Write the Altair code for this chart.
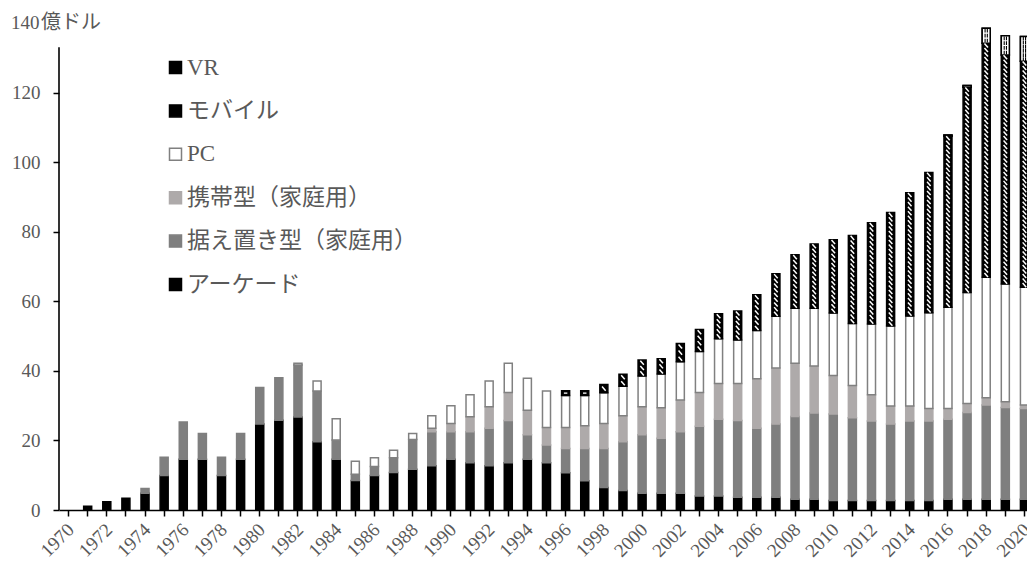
import altair as alt
import pandas as pd

# Game market revenue by platform (unit: 100 million USD), 1970-2020
years = list(range(1970, 2021))

arcade = [0.0, 1.1, 2.4, 3.4, 4.8, 9.9, 14.6, 14.6, 9.9, 14.6,
          24.7, 25.8, 26.7, 19.6, 14.6, 8.5, 9.9, 10.8, 11.7, 12.7,
          14.6, 13.6, 12.7, 13.6, 14.6, 13.6, 10.7, 8.4, 6.5, 5.6,
          4.8, 4.8, 4.8, 4.0, 4.0, 3.7, 3.7, 3.7, 3.1, 3.1,
          2.7, 2.7, 2.7, 2.7, 2.7, 2.7, 3.1, 3.1, 3.1, 3.1, 3.1]
console = [0.0, 0.0, 0.0, 0.0, 1.4, 5.3, 10.7, 7.4, 5.3, 7.4,
           10.5, 12.2, 15.0, 14.6, 5.5, 1.8, 2.6, 4.2, 8.6, 9.8,
           7.9, 8.9, 10.8, 12.1, 7.0, 5.1, 7.0, 9.3, 11.2, 14.0,
           16.8, 15.8, 17.7, 20.1, 22.1, 22.0, 19.8, 21.0, 23.8, 24.8,
           24.9, 23.8, 22.9, 22.0, 22.9, 22.9, 23.0, 24.9, 27.1, 26.4, 26.1]
handheld = [0.0, 0.0, 0.0, 0.0, 0.0, 0.0, 0.0, 0.0, 0.0, 0.0,
            0.0, 0.0, 0.0, 0.0, 0.0, 0.0, 0.0, 0.0, 0.0, 1.0,
            2.4, 4.3, 6.2, 8.1, 7.1, 5.0, 6.0, 6.5, 7.2, 7.5,
            8.1, 8.8, 9.1, 9.7, 10.3, 10.7, 14.2, 16.1, 15.3, 13.5,
            11.1, 9.3, 7.5, 5.2, 4.3, 3.6, 3.1, 2.6, 2.1, 1.6, 1.0]
pc = [0.0, 0.0, 0.0, 0.0, 0.0, 0.0, 0.0, 0.0, 0.0, 0.0,
      0.0, 0.0, 0.5, 2.9, 6.1, 3.7, 2.5, 2.2, 1.7, 3.6,
      5.1, 6.3, 7.4, 8.4, 9.2, 10.5, 9.2, 8.7, 8.8, 8.5,
      8.8, 9.7, 11.0, 11.8, 12.8, 12.5, 13.9, 14.9, 15.8, 16.6,
      17.9, 17.8, 20.4, 23.0, 25.9, 27.5, 29.1, 31.9, 34.6, 33.9, 33.8]
mobile = [0.0, 0.0, 0.0, 0.0, 0.0, 0.0, 0.0, 0.0, 0.0, 0.0,
          0.0, 0.0, 0.0, 0.0, 0.0, 0.0, 0.0, 0.0, 0.0, 0.0,
          0.0, 0.0, 0.0, 0.0, 0.0, 0.0, 1.4, 1.4, 2.4, 3.4,
          4.6, 4.4, 5.3, 6.3, 7.2, 8.3, 10.3, 12.2, 15.4, 18.5,
          21.1, 25.3, 29.1, 32.6, 35.4, 40.3, 49.2, 59.0, 67.3, 65.8, 65.0]
vr = [0.0, 0.0, 0.0, 0.0, 0.0, 0.0, 0.0, 0.0, 0.0, 0.0,
      0.0, 0.0, 0.0, 0.0, 0.0, 0.0, 0.0, 0.0, 0.0, 0.0,
      0.0, 0.0, 0.0, 0.0, 0.0, 0.0, 0.0, 0.0, 0.0, 0.0,
      0.0, 0.0, 0.0, 0.0, 0.0, 0.0, 0.0, 0.0, 0.0, 0.0,
      0.0, 0.0, 0.0, 0.0, 0.0, 0.0, 0.3, 0.5, 4.3, 5.5, 7.1]

# legend order (top to bottom) = reverse of stacking order
categories = ["VR", "モバイル", "PC", "携帯型（家庭用）", "据え置き型（家庭用）", "アーケード"]
fill_colors = ["#000000", "#000000", "#ffffff", "#aeaaaa", "#7f7f7f", "#000000"]
stroke_colors = ["#000000", "#000000", "#808080", "#aeaaaa", "#7f7f7f", "#000000"]

series = {
    "アーケード": arcade,
    "据え置き型（家庭用）": console,
    "携帯型（家庭用）": handheld,
    "PC": pc,
    "モバイル": mobile,
    "VR": vr,
}
stack_order = ["アーケード", "据え置き型（家庭用）", "携帯型（家庭用）", "PC", "モバイル", "VR"]

PLOT_W = 975
PLOT_H = 487
Y_MAX = 140
px_per_unit = PLOT_H / Y_MAX

# stacked segments computed bottom-up
rows = []
for i, yr in enumerate(years):
    base = 0.0
    for cat in stack_order:
        v = series[cat][i]
        if v > 0:
            rows.append({"year": yr, "cat": cat, "y0": base, "y1": base + v})
        base += v
seg = pd.DataFrame(rows)

# hatch glyphs for the mobile segments, and dots for the VR segments
hatch, hatch_small, dots = [], [], []
for r in rows:
    h_px = (r["y1"] - r["y0"]) * px_per_unit
    if r["cat"] == "モバイル":
        if h_px < 7:
            hatch_small.append({"year": r["year"], "yv": (r["y0"] + r["y1"]) / 2})
        else:
            n = max(1, int((h_px - 2) // 4.4))
            step = (r["y1"] - r["y0"]) / n
            for k in range(n):
                hatch.append({"year": r["year"], "yv": r["y0"] + (k + 0.5) * step})
    elif r["cat"] == "VR" and h_px >= 4:
        n = max(1, int((h_px - 2) // 3.5))
        step = (r["y1"] - r["y0"]) / n
        for k in range(n):
            dots.append({"year": r["year"], "yv": r["y0"] + (k + 0.5) * step})

FONT = "Liberation Serif, Noto Sans CJK JP"
GRAY_TEXT = "#595959"

x_scale = alt.Scale(domain=years, paddingInner=0.58, paddingOuter=0.29, range=[0, PLOT_W])
x_enc = alt.X(
    "year:O",
    scale=x_scale,
    axis=alt.Axis(
        title=None,
        labelAngle=-45,
        labelExpr="toNumber(datum.value) % 2 == 0 ? datum.label : ''",
        labelOverlap=False,
        labelBound=False,
        labelFlush=False,
        labelFont=FONT,
        labelFontSize=19,
        labelColor=GRAY_TEXT,
        labelPadding=4,
        labelOffset=-4,
        domainColor="#000000",
        domainWidth=1.6,
        tickColor="#000000",
        tickWidth=1.5,
        tickSize=6,
        grid=False,
    ),
)
y_scale = alt.Scale(domain=[0, Y_MAX], nice=False)

bars = alt.Chart(seg).mark_bar(strokeWidth=1.5).encode(
    x=x_enc,
    y=alt.Y(
        "y0:Q",
        scale=y_scale,
        axis=alt.Axis(
            title=None,
            values=[0, 20, 40, 60, 80, 100, 120],
            domain=False,
            tickColor="#000000",
            tickWidth=1.5,
            tickSize=6,
            labelPadding=13,
            labelFont=FONT,
            labelFontSize=19,
            labelColor=GRAY_TEXT,
            grid=False,
        ),
    ),
    y2="y1:Q",
    fill=alt.Fill(
        "cat:N",
        scale=alt.Scale(domain=categories, range=fill_colors),
        legend=alt.Legend(
            orient="none",
            legendX=105,
            legendY=33,
            title=None,
            symbolType="square",
            symbolSize=144,
            symbolStrokeWidth=1.5,
            labelFont=FONT,
            labelFontSize=23,
            labelColor=GRAY_TEXT,
            labelOffset=0,
            labelLimit=400,
            rowPadding=19.4,
            padding=0,
        ),
    ),
    stroke=alt.Stroke("cat:N", scale=alt.Scale(domain=categories, range=stroke_colors)),
)

# VR segments: white fill inside a black frame, dotted
vr_box = alt.Chart(seg[seg["cat"] == "VR"]).mark_bar(
    fill="#ffffff", stroke="#000000", strokeWidth=1.5
).encode(x=alt.X("year:O", scale=x_scale), y="y0:Q", y2="y1:Q")

vr_dots = alt.Chart(pd.DataFrame(dots)).mark_point(
    shape="M-0.6,-1V1M0.6,-1V1", filled=False, stroke="#000000", strokeWidth=1.1, size=14, opacity=1
).encode(x=alt.X("year:O", scale=x_scale), y="yv:Q")

mobile_hatch = alt.Chart(pd.DataFrame(hatch)).mark_point(
    shape="M-0.7,-0.8L0.7,0.8", filled=False, stroke="#ffffff", strokeWidth=1.5, size=26, opacity=1
).encode(x=alt.X("year:O", scale=x_scale), y="yv:Q")

mobile_hatch_small = alt.Chart(pd.DataFrame(hatch_small)).mark_point(
    shape="M-1,0L1,0", filled=False, stroke="#ffffff", strokeWidth=1.3, size=12, opacity=1
).encode(x=alt.X("year:O", scale=x_scale), y="yv:Q")

# vertical axis line (stops below the unit label)
y_line = alt.Chart(pd.DataFrame({"a": [0]})).mark_rule(color="#000000", strokeWidth=1.6).encode(
    x=alt.value(0), y=alt.datum(0), y2=alt.datum(133)
)

unit_num = alt.Chart(pd.DataFrame({"t": ["140"]})).mark_text(
    align="left", baseline="middle", font=FONT, fontSize=19, color=GRAY_TEXT
).encode(x=alt.value(-48), y=alt.datum(Y_MAX), text="t:N")
unit_txt = alt.Chart(pd.DataFrame({"t": ["億ドル"]})).mark_text(
    align="left", baseline="middle", font=FONT, fontSize=20, color=GRAY_TEXT
).encode(x=alt.value(-18), y=alt.datum(Y_MAX), text="t:N")

chart = alt.layer(
    bars, vr_box, vr_dots, mobile_hatch, mobile_hatch_small, y_line, unit_num, unit_txt
).properties(
    width=968,
    height=PLOT_H,
    padding={"left": 59, "top": 23, "right": 0, "bottom": 52},
    autosize=alt.AutoSizeParams(type="none"),
).configure(background="#ffffff").configure_view(stroke=None)

chart.save("out.html", embed_options={"renderer": "svg", "actions": False})
